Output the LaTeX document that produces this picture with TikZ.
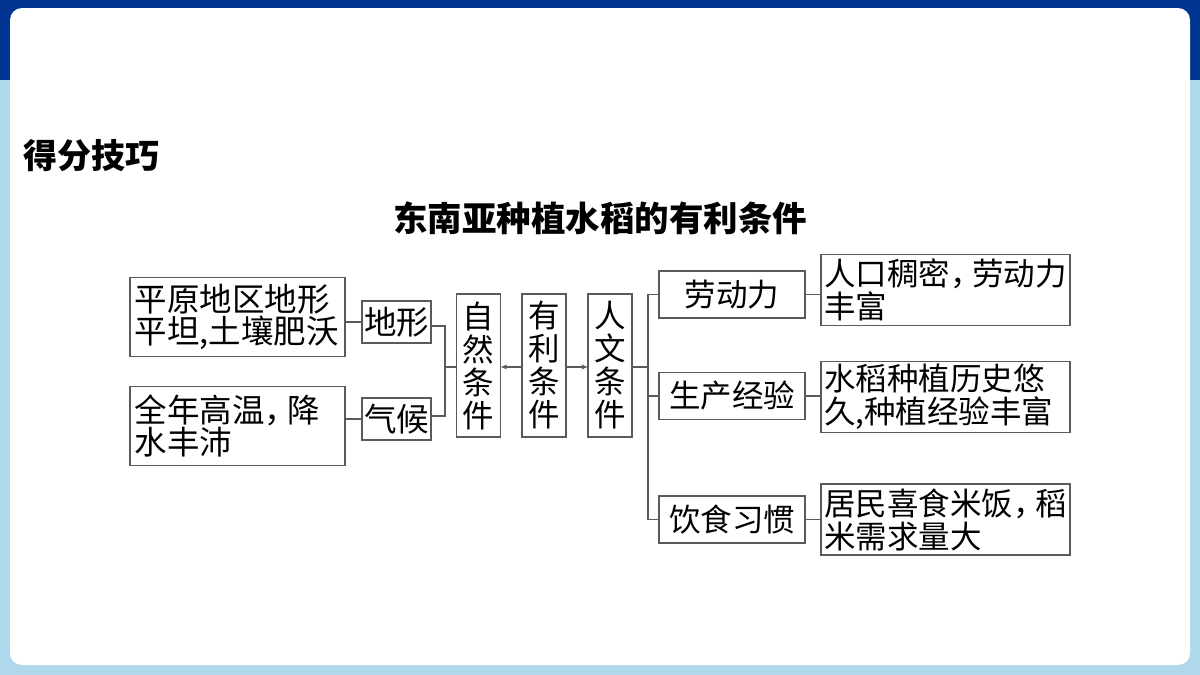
\documentclass[tikz,border=0pt]{standalone}
\usepackage{fontspec}
\usetikzlibrary{arrows.meta}
\newfontfamily\cjk{Noto Sans CJK SC}
\definecolor{dblue}{RGB}{0,53,145}
\definecolor{lblue}{RGB}{176,216,236}
\definecolor{lnc}{RGB}{90,90,90}
\newcommand{\cm}{，\kern-0.3em}
\tikzset{
  box/.style={draw=lnc, line width=1.1pt, inner sep=0pt, text=black,
    font=\cjk\fontsize{31.5}{33}\selectfont},
  bigtext/.style={font=\cjk\fontsize{32.5}{32}\selectfont},
  vbox/.style={box, minimum width=44pt, minimum height=143pt, text width=32pt,
    align=center, font=\cjk\fontsize{31.5}{33}\selectfont},
  sbox/.style={box, bigtext, minimum width=69pt, minimum height=42pt},
  mbox/.style={box, minimum width=146pt, minimum height=47pt},
  lbox/.style={box, bigtext, minimum width=215pt, minimum height=79pt, text width=206pt, align=left},
  rbox/.style={box, minimum width=249pt, minimum height=71pt, text width=243pt, align=left},
  conn/.style={draw=lnc, line width=1.1pt},
  arr/.style={conn, -{Stealth[length=6pt,width=5pt]}},
}
\begin{document}
\begin{tikzpicture}[x=1pt,y=-1pt]
\useasboundingbox (0,0) rectangle (1200,675);
\fill[lblue] (0,0) rectangle (1200,675);
\fill[dblue] (0,0) rectangle (1200,80);
\fill[white, rounded corners=12pt] (10,8) rectangle (1190,665);

\node[anchor=west, font=\cjk\bfseries\fontsize{34}{40}\selectfont] (hd) at (20,156) {得分技巧};
\node[font=\cjk\bfseries\fontsize{34.5}{40}\selectfont] (title) at (600,218) {东南亚种植水稻的有利条件};

\node[lbox] (A) at (237.5,317) {平原地区地形\\平坦,土壤肥沃};
\node[lbox] (B) at (237.5,426) {全年高温\cm 降\\水丰沛};
\node[sbox] (dx) at (396.5,322) {地形};
\node[sbox] (qh) at (396.5,419) {气候};
\node[vbox] (zr) at (478.5,365.5) {自\\然\\条\\件};
\node[vbox] (yl) at (544,365.5) {有\\利\\条\\件};
\node[vbox] (rw) at (610,365.5) {人\\文\\条\\件};

\node[mbox] (ld) at (732,294.5) {劳动力};
\node[mbox] (sc) at (732,396) {生产经验};
\node[mbox] (ys) at (732,519.5) {饮食习惯};

\node[rbox] (r1) at (945.5,290) {人口稠密\cm 劳动力\\丰富};
\node[rbox] (r2) at (945.5,397) {水稻种植历史悠\\久,种植经验丰富};
\node[rbox] (r3) at (945.5,519.5) {居民喜食米饭\cm 稻\\米需求量大};

\coordinate (j1) at (445,367);
\coordinate (j2) at (648,367);

\draw[conn] (dx.west) -- (dx.west -| A.east);
\draw[conn] (qh.west) -- (qh.west -| B.east);
\draw[conn] ([yshift=-4pt]dx.east) -| (j1);
\draw[conn] ([yshift=3pt]qh.east) -| (j1);
\draw[conn] (j1) -- (j1 -| zr.west);
\draw[arr] (yl.west |- j1) -- (zr.east |- j1);
\draw[arr] (yl.east |- j1) -- (rw.west |- j1);
\draw[conn] (rw.east |- j2) -- (j2);
\draw[conn] (j2) |- (ld.west);
\draw[conn] (j2) |- (sc.west);
\draw[conn] (j2) |- (ys.west);
\draw[conn] (ld.east) -- (ld.east -| r1.west);
\draw[conn] (sc.east) -- (sc.east -| r2.west);
\draw[conn] (ys.east) -- (ys.east -| r3.west);
\end{tikzpicture}
\end{document}
